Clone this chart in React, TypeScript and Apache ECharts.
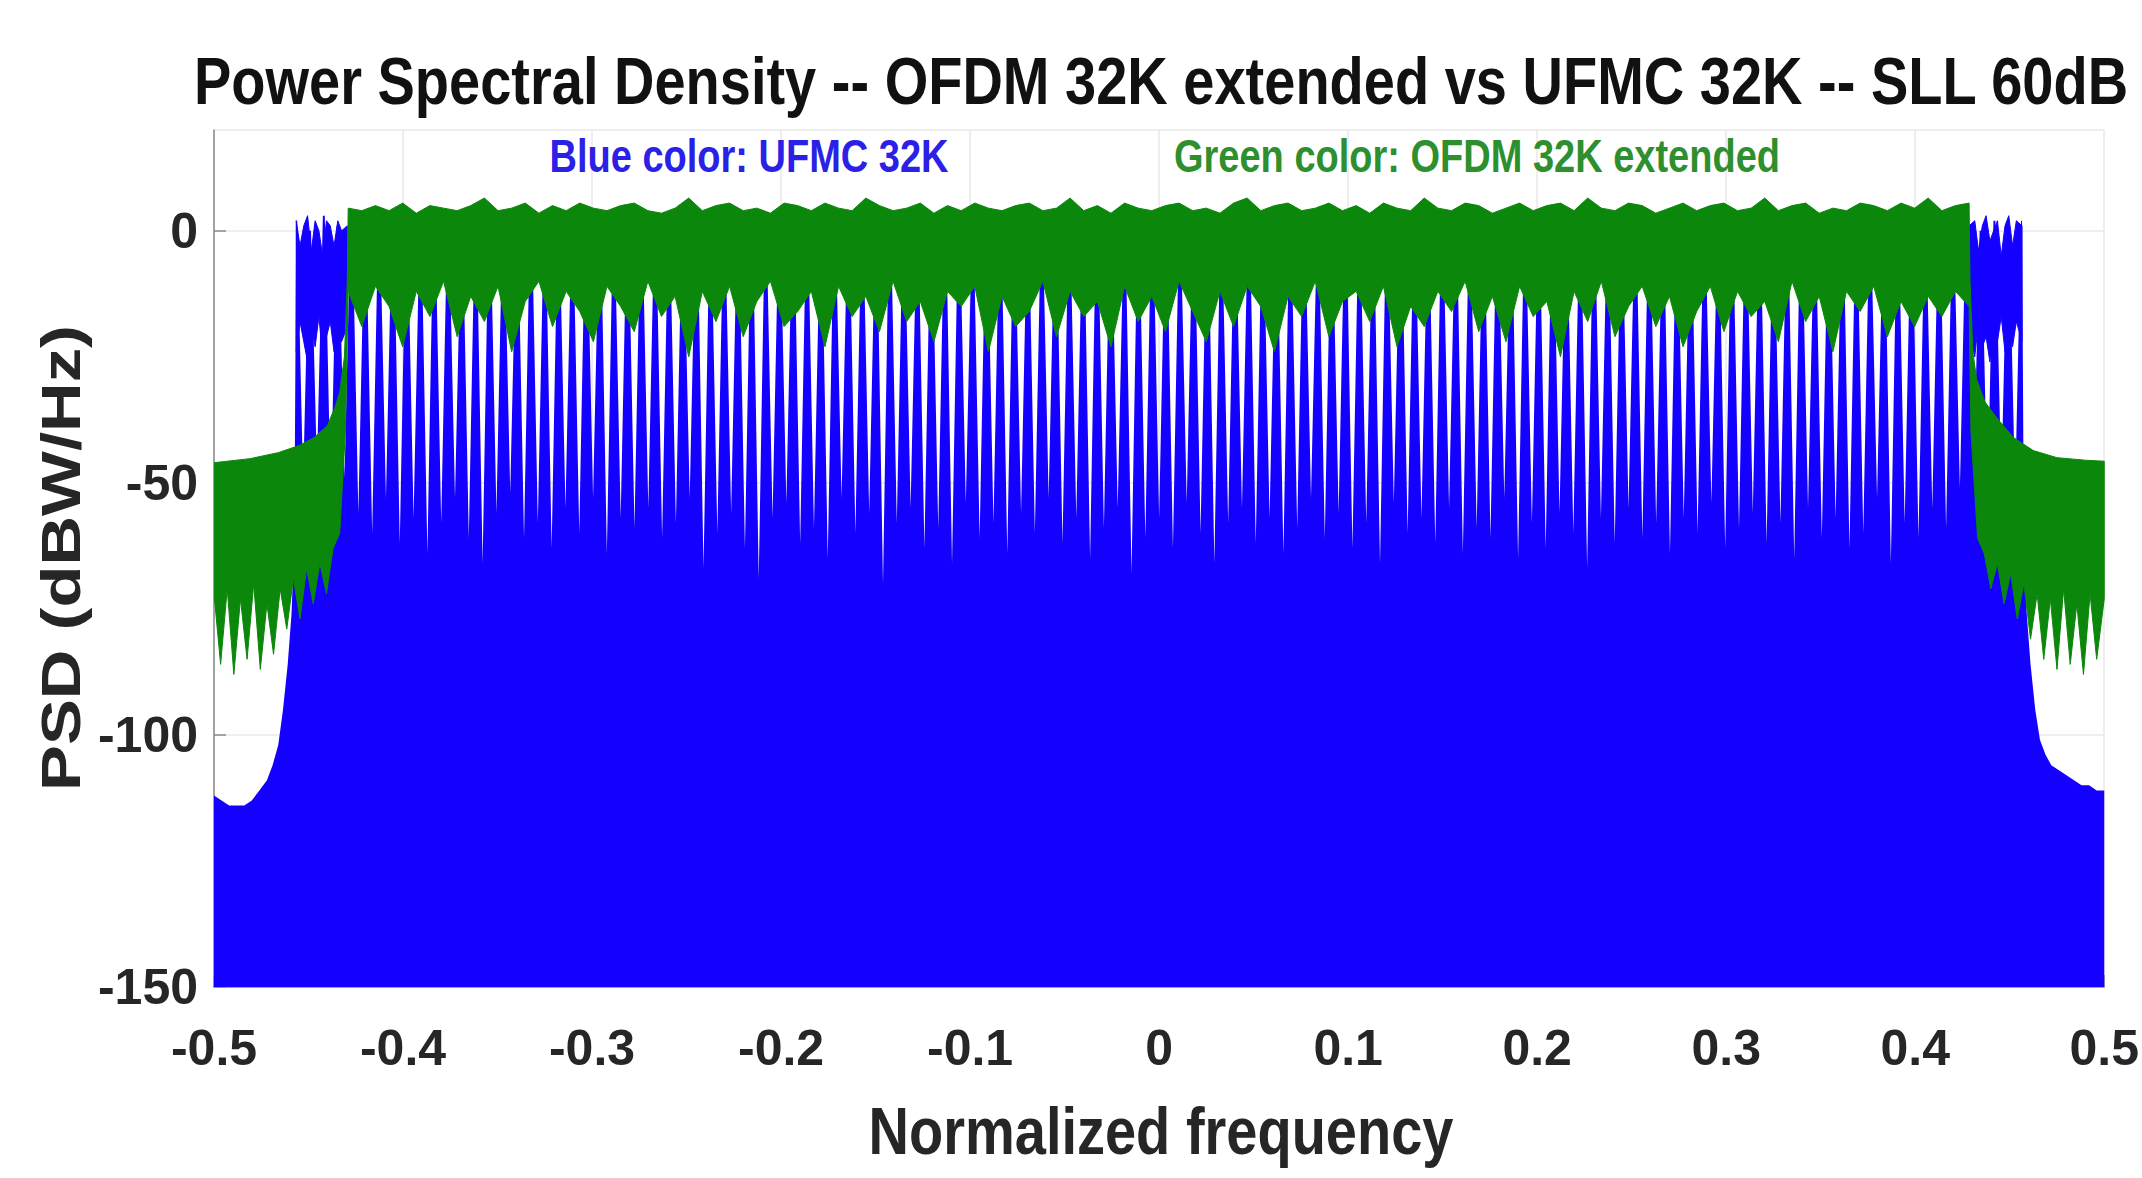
import React, { useEffect, useRef } from "react";
import * as echarts from "echarts";

// ---------- Text ----------
const titleText = "Power Spectral Density -- OFDM 32K extended vs UFMC 32K -- SLL 60dB";
const blueNote = "Blue color: UFMC 32K";
const greenNote = "Green color: OFDM 32K extended";
const xName = "Normalized frequency";
const yName = "PSD (dBW/Hz)";

// ---------- Axes ----------
const xMin = -0.5;
const xMax = 0.5;
const xStep = 0.1;
const yMin = -150;
const yMax = 20;
const yStep = 50;

// ---------- UFMC 32K (blue) ----------
const ufmcLeftFreq = [-0.5, -0.496, -0.492, -0.488, -0.484, -0.48, -0.476, -0.472, -0.469, -0.466, -0.4635, -0.461, -0.459, -0.4575];
const ufmcLeftPsd = [-112, -113, -114, -114, -114, -113, -111, -109, -106, -102, -95, -86, -76, -62];
const ufmcRightFreq = [0.4575, 0.459, 0.461, 0.4635, 0.466, 0.469, 0.472, 0.476, 0.48, 0.484, 0.488, 0.492, 0.496, 0.5];
const ufmcRightPsd = [-62, -76, -86, -95, -101, -104, -106, -107, -108, -109, -110, -110, -111, -111];
const ufmcBandStart = -0.4565;
const ufmcBandEnd = 0.4565;
// lobe crest levels (one more than the notches)
const ufmcCrest = [
  2, 0, 3, 1, 2, 0, 1, 2, 1, 0, 2, 1, 0, 1, 2, 1, 0, 2, 1, 1, 0, 2, 1, 0, 1,
  2, 1, 0, 1, 2, 0, 1, 1, 2, 0, 1, 2, 1, 0, 1, 2, 1, 0, 2, 1, 0, 1, 2, 1, 0,
  1, 2, 0, 1, 1, 2, 0, 1, 2, 1, 0, 1, 2, 1, 0, 2, 1, 0, 1, 2, 1, 0, 1, 2, 0,
  1, 2, 1, 0, 1, 2, 1, 0, 2, 1, 0, 1, 2, 1, 0, 1, 2, 0, 1, 2, 1, 0, 1, 2, 1,
  0, 2, 1, 0, 1, 2, 1, 0, 1, 2, 0, 1, 2, 1, 0, 1, 2, 1, 0, 2, 1, 3, 0, 2, 1, 2,
];
// notch depths between lobes
const ufmcNotch = [
  -50, -47, -53, -49, -56, -60, -53, -62, -57, -64, -58, -53, -61, -66, -56, -52, -61, -58, -63, -55, -60, -53, -64, -57, -59,
  -55, -61, -58, -53, -67, -60, -56, -63, -69, -57, -54, -62, -59, -65, -53, -60, -56, -70, -58, -55, -63, -59, -66, -54, -61,
  -58, -64, -56, -60, -53, -62, -57, -65, -59, -55, -68, -61, -57, -63, -54, -60, -66, -58, -55, -62, -57, -64, -59, -53, -61,
  -56, -63, -58, -66, -54, -60, -57, -62, -55, -64, -59, -61, -53, -65, -58, -63, -56, -60, -67, -57, -62, -55, -61, -58, -64,
  -57, -60, -54, -63, -59, -56, -62, -58, -65, -55, -61, -57, -63, -60, -53, -66, -58, -61, -55, -59, -51, -48, -54, -50, -52,
];
// dense lobe tops at the two band edges that OFDM does not cover
const ufmcLeftCapFreq = [-0.4565, -0.4545, -0.4525, -0.4505, -0.4485, -0.4465, -0.4445, -0.4425, -0.4405, -0.4385, -0.4365, -0.4345, -0.4325, -0.4295];
const ufmcLeftCapTop = [2, -3, 1, 3, -4, 2, 0, -5, 2, 1, -3, 2, 0, 1];
const ufmcLeftCapBottom = [-24, -18, -22, -26, -19, -23, -17, -25, -21, -18, -24, -20, -22, -19];
const ufmcRightCapFreq = [0.4285, 0.4315, 0.4335, 0.4355, 0.4375, 0.4395, 0.4415, 0.4435, 0.4455, 0.4475, 0.4495, 0.4515, 0.4535, 0.4565];
const ufmcRightCapTop = [1, 2, -4, 1, 3, -2, 0, 2, -5, 1, 3, -3, 2, 1];
const ufmcRightCapBottom = [-20, -25, -18, -23, -21, -26, -19, -22, -17, -24, -20, -23, -18, -22];

// ---------- OFDM 32K extended (green) ----------
const ofdmLeftTopFreq = [-0.5, -0.481, -0.466, -0.455, -0.447, -0.44, -0.436, -0.4335, -0.431, -0.4295];
const ofdmLeftTopPsd = [-46, -45.2, -44, -42.6, -41, -38.6, -35, -32, -25, -10];
const ofdmRightTopFreq = [0.429, 0.4305, 0.4325, 0.437, 0.444, 0.452, 0.4625, 0.475, 0.49, 0.5];
const ofdmRightTopPsd = [-10, -24, -29.5, -34, -37.5, -41, -43.6, -45, -45.5, -45.7];
const ofdmLeftBottomFreq = [-0.5, -0.4965, -0.493, -0.4895, -0.486, -0.4825, -0.479, -0.4755, -0.472, -0.4685, -0.465, -0.4615, -0.458, -0.4545, -0.451, -0.4475, -0.444, -0.4405, -0.437, -0.4335, -0.4305];
const ofdmLeftBottomPsd = [-72, -86, -71, -88, -73, -85, -70, -87, -74, -84, -71, -79, -69, -77, -67, -74, -66, -72, -63, -60, -40];
const ofdmRightBottomFreq = [0.4295, 0.433, 0.4365, 0.44, 0.4435, 0.447, 0.4505, 0.454, 0.4575, 0.461, 0.4645, 0.468, 0.4715, 0.475, 0.4785, 0.482, 0.4855, 0.489, 0.4925, 0.496, 0.5];
const ofdmRightBottomPsd = [-40, -61, -64, -71, -66, -74, -68, -77, -70, -81, -72, -85, -73, -87, -71, -86, -74, -88, -72, -85, -73];
const ofdmBandStart = -0.429;
const ofdmBandEnd = 0.4285;
const ofdmBandTop = [
  4.5, 4, 5, 4, 5.5, 3.5, 5, 4.5, 4, 5, 6.5, 4, 4.5, 5.5, 3.5, 5, 4, 5.5, 4.5, 4,
  5, 5.5, 4, 3.5, 4.5, 6.5, 4, 5, 5.5, 4, 4.5, 3.5, 5.5, 5, 4, 5.5, 4.5, 4, 6.5, 5,
  4, 4.5, 5.5, 3.5, 5, 4, 5.5, 4.5, 4, 5, 5.5, 4, 4.5, 6.5, 4, 5, 3.5, 5.5, 4.5, 4,
  5, 5.5, 4, 4.5, 3.5, 5.5, 6.5, 4, 5, 5.5, 4, 4.5, 5.5, 4, 5, 3.5, 5.5, 4.5, 4, 6.5,
  4.5, 4, 5.5, 5, 3.5, 4.5, 5.5, 4, 5, 5.5, 4, 6.5, 4.5, 4, 5.5, 5, 3.5, 4.5, 5.5, 4,
  5, 5.5, 4, 4.5, 6.5, 4, 5, 5.5, 3.5, 4.5, 4, 5.5, 5, 4, 5.5, 4.5, 6.5, 4, 5, 5.5,
];
const ofdmBandBottom = [
  -12, -19, -11, -15, -23, -12, -17, -10, -21, -13, -18, -11, -24, -14, -10, -19, -12, -16, -22, -11,
  -15, -20, -10, -17, -13, -25, -12, -18, -11, -21, -14, -10, -19, -16, -12, -23, -11, -17, -13, -20,
  -10, -18, -14, -22, -12, -15, -11, -24, -13, -19, -16, -10, -21, -12, -17, -14, -23, -11, -18, -13,
  -20, -10, -16, -22, -12, -19, -11, -15, -24, -13, -17, -10, -21, -14, -12, -18, -11, -23, -15, -19,
  -12, -16, -10, -20, -13, -22, -11, -17, -14, -25, -12, -18, -10, -21, -15, -11, -19, -13, -23, -16,
  -11, -20, -12, -17, -14, -22, -10, -18, -13, -24, -12, -16, -11, -21, -14, -19, -13, -17, -12, -15,
];

// ---------- Styling ----------
const BLUE = "#1400ff";
const GREEN = "#0b870b";
const NOTE_BLUE = "#2b20e6";
const NOTE_GREEN = "#2e8f2e";
const FONT = "'Liberation Sans', Arial, Helvetica, sans-serif";
const TEXT_STRETCH = 1.2;

function zip(f: number[], v: number[]): number[][] {
  return f.map((x, i) => [x, v[i]]);
}

function buildUfmc(): number[][] {
  const pts: number[][] = zip(ufmcLeftFreq, ufmcLeftPsd);
  const n = ufmcNotch.length;
  const period = (ufmcBandEnd - ufmcBandStart) / n;
  const half = 0.07 * period;
  for (let j = 0; j <= n; j++) {
    const a = ufmcBandStart + j * period;
    if (j === 0) pts.push([a, ufmcCrest[j]]);
    if (j > 0) pts.push([a - half, ufmcCrest[j]]);
    if (j < n) {
      pts.push([a + half, ufmcCrest[j]]);
      pts.push([a + period / 2, ufmcNotch[j]]);
    }
    if (j === n) pts.push([a, ufmcCrest[j]]);
  }
  return pts.concat(zip(ufmcRightFreq, ufmcRightPsd));
}

function bandPoints(start: number, end: number, vals: number[]): number[][] {
  const step = (end - start) / (vals.length - 1);
  return vals.map((v, i) => [start + i * step, v]);
}

function bandPolygon(f: number[], top: number[], bottom: number[]): number[][] {
  return zip(f, top).concat(zip(f, bottom).reverse());
}

function buildOfdmPolygon(): number[][] {
  const top = zip(ofdmLeftTopFreq, ofdmLeftTopPsd)
    .concat(bandPoints(ofdmBandStart, ofdmBandEnd, ofdmBandTop))
    .concat(zip(ofdmRightTopFreq, ofdmRightTopPsd));
  const bottom = zip(ofdmLeftBottomFreq, ofdmLeftBottomPsd)
    .concat(bandPoints(ofdmBandStart, ofdmBandEnd, ofdmBandBottom))
    .concat(zip(ofdmRightBottomFreq, ofdmRightBottomPsd));
  return top.concat(bottom.reverse());
}

function polygonSeries(name: string, polys: number[][][], color: string, z: number) {
  return {
    type: "custom",
    name,
    data: polys.map((_, i) => [i, 0]),
    silent: true,
    clip: true,
    z,
    renderItem: (params: any, api: any) => ({
      type: "polygon",
      shape: { points: polys[params.dataIndex].map((p) => api.coord(p)) },
      style: { fill: color, stroke: color, lineWidth: 1 },
    }),
  };
}

function textEl(text: string, x: number, y: number, size: number, color: string, extra: any = {}) {
  return {
    type: "text",
    x,
    y,
    silent: true,
    z: 10,
    scaleY: TEXT_STRETCH,
    ...extra,
    style: {
      text,
      fontFamily: FONT,
      fontWeight: "bold",
      fontSize: size,
      fill: color,
      align: "center",
      verticalAlign: "middle",
      textAlign: "center",
      textVerticalAlign: "middle",
    },
  };
}

export default function App() {
  const ref = useRef<HTMLDivElement>(null);
  useEffect(() => {
    document.body.style.margin = "0";
    const chart = echarts.init(ref.current as HTMLDivElement, null, { renderer: "svg" });
    const axisLineStyle = { color: "#8a8a8a", width: 1.5 };
    const option: any = {
      animation: false,
      backgroundColor: "#ffffff",
      grid: { left: 214, right: 34, top: 130, bottom: 191, containLabel: false },
      xAxis: {
        type: "value",
        min: xMin,
        max: xMax,
        interval: xStep,
        axisLine: { show: true, onZero: false, lineStyle: axisLineStyle },
        axisTick: { show: true, inside: true, length: 12, lineStyle: axisLineStyle },
        axisLabel: { margin: 36, fontFamily: FONT, fontWeight: "bold", fontSize: 50, color: "#262626" },
        splitLine: { show: true, lineStyle: { color: "#e8e8e8", width: 1.5 } },
      },
      yAxis: {
        type: "value",
        min: yMin,
        max: yMax,
        interval: yStep,
        axisLine: { show: true, onZero: false, lineStyle: axisLineStyle },
        axisTick: { show: true, inside: true, length: 12, lineStyle: axisLineStyle },
        axisLabel: { margin: 16, showMaxLabel: false, fontFamily: FONT, fontWeight: "bold", fontSize: 50, color: "#262626" },
        splitLine: { show: true, lineStyle: { color: "#e8e8e8", width: 1.5 } },
      },
      graphic: [
        textEl(titleText, 1161, 81, 56, "#111111"),
        textEl(blueNote, 749, 156, 38, NOTE_BLUE),
        textEl(greenNote, 1477, 156, 38, NOTE_GREEN),
        textEl(xName, 1161, 1131, 56, "#262626"),
        textEl(yName, 61, 558, 55, "#262626", { rotation: Math.PI / 2, scaleY: 1, scaleX: 1.25 }),
      ],
      series: [
        {
          type: "line",
          name: "UFMC 32K",
          data: buildUfmc(),
          symbol: "none",
          showSymbol: false,
          silent: true,
          clip: true,
          z: 2,
          lineStyle: { color: BLUE, width: 0 },
          areaStyle: { color: BLUE, opacity: 1, origin: "start" },
        },
        polygonSeries(
          "UFMC 32K edge lobes",
          [
            bandPolygon(ufmcLeftCapFreq, ufmcLeftCapTop, ufmcLeftCapBottom),
            bandPolygon(ufmcRightCapFreq, ufmcRightCapTop, ufmcRightCapBottom),
          ],
          BLUE,
          2
        ),
        polygonSeries("OFDM 32K extended", [buildOfdmPolygon()], GREEN, 3),
      ],
    };
    chart.setOption(option);
    return () => chart.dispose();
  }, []);
  return <div ref={ref} style={{ width: 2142, height: 1178 }} />;
}
